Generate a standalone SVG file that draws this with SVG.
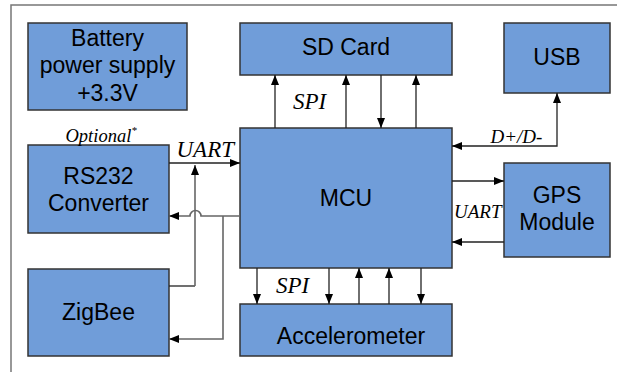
<svg xmlns="http://www.w3.org/2000/svg" width="617" height="372" viewBox="0 0 617 372">
<style>
.box{fill:#709dd9;stroke:#333;stroke-width:1.5}
.t{font-family:"Liberation Sans",Arial,sans-serif;font-size:23px;fill:#000;text-anchor:middle}
.lbl{font-family:"Liberation Serif","Times New Roman",serif;font-style:italic;fill:#000}
.c{fill:none;stroke:#222;stroke-width:1.3}
.g{fill:none;stroke:#666;stroke-width:1.6}
.frame{fill:none;stroke:#777;stroke-width:1.5}
</style>
<defs>
<marker id="ah" viewBox="0 0 10 8" refX="10" refY="4" markerWidth="10" markerHeight="8" markerUnits="userSpaceOnUse" orient="auto-start-reverse">
<path d="M0,0 L10,4 L0,8 z" fill="#000"/>
</marker>
</defs>
<rect width="617" height="372" fill="#fff"/>
<path class="frame" d="M11,372 V5 H617"/>

<g id="battery">
<rect class="box" x="28" y="23" width="159" height="87"/>
<text class="t" x="107.5" y="45.5">Battery</text>
<text class="t" x="107.5" y="73">power supply</text>
<text class="t" x="107.5" y="100.5">+3.3V</text>
</g>
<g id="sdcard">
<rect class="box" x="240" y="23" width="212" height="52"/>
<text class="t" x="346" y="55">SD Card</text>
</g>
<g id="usb">
<rect class="box" x="504" y="23" width="106" height="70"/>
<text class="t" x="557" y="64.5">USB</text>
</g>
<g id="rs232">
<rect class="box" x="28" y="145" width="141" height="88"/>
<text class="t" x="98.5" y="183.5">RS232</text>
<text class="t" x="98.5" y="211">Converter</text>
</g>
<g id="zigbee">
<rect class="box" x="28" y="269" width="141" height="87"/>
<text class="t" x="98.5" y="319.5">ZigBee</text>
</g>
<g id="mcu">
<rect class="box" x="240" y="128" width="212" height="140"/>
<text class="t" x="346" y="206">MCU</text>
</g>
<g id="gps">
<rect class="box" x="504" y="163" width="106" height="94"/>
<text class="t" x="557" y="202.5">GPS</text>
<text class="t" x="557" y="230">Module</text>
</g>
<g id="accelerometer">
<rect class="box" x="240" y="304" width="212" height="52"/>
<text class="t" x="351" y="344">Accelerometer</text>
</g>

<g id="connectors">
<path class="c" d="M275,128 V75" marker-end="url(#ah)"/>
<path class="c" d="M346,128 V75" marker-end="url(#ah)"/>
<path class="c" d="M381,75 V128" marker-end="url(#ah)"/>
<path class="c" d="M416,128 V75" marker-end="url(#ah)"/>
<path class="c" d="M257,268 V304" marker-end="url(#ah)"/>
<path class="c" d="M329,268 V304" marker-end="url(#ah)"/>
<path class="c" d="M359,304 V268" marker-end="url(#ah)"/>
<path class="c" d="M389,304 V268" marker-end="url(#ah)"/>
<path class="c" d="M421,268 V304" marker-end="url(#ah)"/>
<path class="c" d="M452,146 H557 V93" marker-start="url(#ah)" marker-end="url(#ah)"/>
<path class="c" d="M452,181 H504" marker-end="url(#ah)"/>
<path class="c" d="M504,242 H452" marker-end="url(#ah)"/>
<path class="c" d="M169,163 H240" marker-end="url(#ah)"/>
<path class="c" d="M169,286 H195"/>
<path class="g" d="M195,286 V165" marker-end="url(#ah)"/>
<path class="g" d="M240,216 H201 A5.5,5.5 0 0 0 190,216 H169" marker-end="url(#ah)"/>
<path class="g" d="M223,216 V339 H169" marker-end="url(#ah)"/>
</g>

<g id="labels">
<text class="lbl" x="293" y="109" font-size="23">SPI</text>
<text class="lbl" x="276" y="293" font-size="23">SPI</text>
<text class="lbl" x="176.5" y="156.5" font-size="23">UART</text>
<text class="lbl" x="454" y="217.5" font-size="19">UART</text>
<text class="lbl" x="490.5" y="142.5" font-size="19">D+/D-</text>
<text class="lbl" x="65.5" y="141.5" font-size="18.5">Optional<tspan font-size="11" dy="-8">*</tspan></text>
</g>
</svg>
